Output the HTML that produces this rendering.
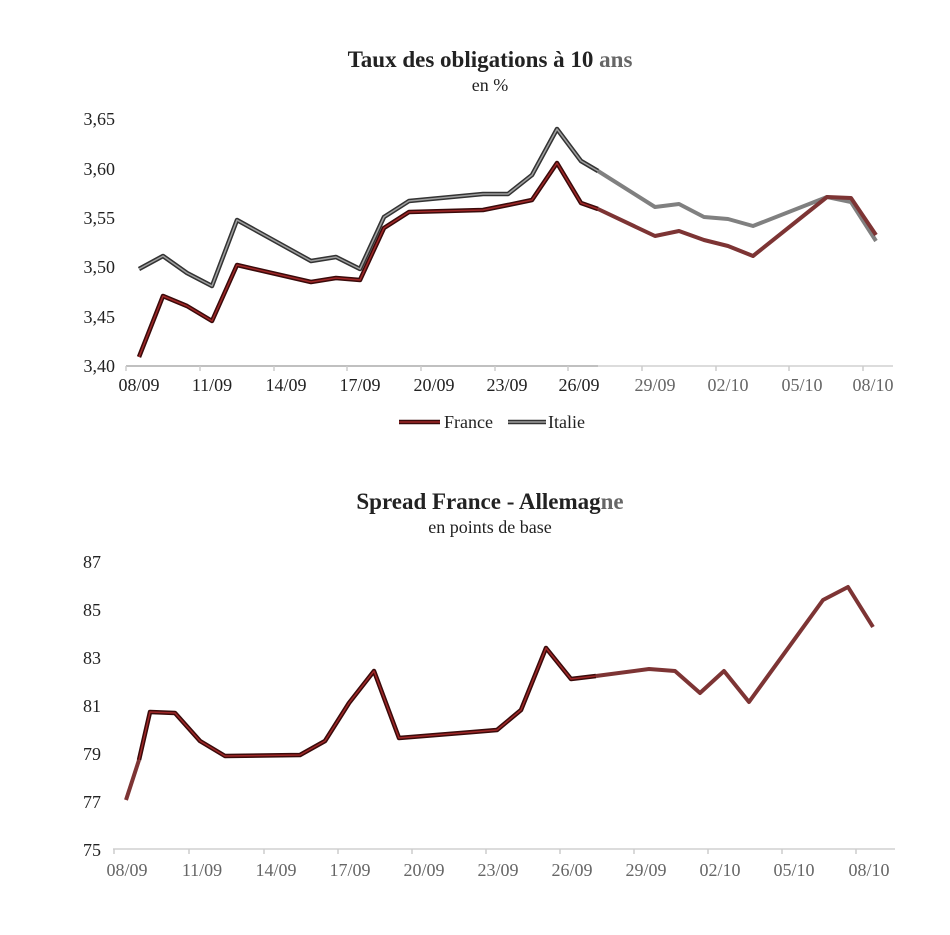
<!DOCTYPE html>
<html><head><meta charset="utf-8"><style>
body{margin:0;background:#fff;}
svg{display:block;font-family:"Liberation Serif",serif;}
</style></head><body>
<svg width="950" height="935" viewBox="0 0 950 935">
<rect width="950" height="935" fill="#fff"/>
<!-- Chart 1 -->
<text x="490" y="67" text-anchor="middle" font-size="23" font-weight="bold" fill="#222">Taux des obligations à 10 <tspan fill="#666">ans</tspan></text>
<text x="490" y="91" text-anchor="middle" font-size="18" fill="#222">en %</text>
<g font-size="18" fill="#222" text-anchor="end">
<text x="115" y="125">3,65</text><text x="115" y="175">3,60</text><text x="115" y="224">3,55</text>
<text x="115" y="273">3,50</text><text x="115" y="323">3,45</text><text x="115" y="372">3,40</text>
</g>
<line x1="126" y1="366" x2="893" y2="366" stroke="#d0d0d0" stroke-width="1.5"/>
<line x1="126" y1="366" x2="598" y2="366" stroke="#999" stroke-width="1"/>
<g stroke="#ccc" stroke-width="1.5">
<line x1="126" y1="366" x2="126" y2="371"/><line x1="200" y1="366" x2="200" y2="371"/><line x1="274" y1="366" x2="274" y2="371"/><line x1="347" y1="366" x2="347" y2="371"/><line x1="421" y1="366" x2="421" y2="371"/><line x1="495" y1="366" x2="495" y2="371"/><line x1="568" y1="366" x2="568" y2="371"/><line x1="642" y1="366" x2="642" y2="371"/><line x1="716" y1="366" x2="716" y2="371"/><line x1="789" y1="366" x2="789" y2="371"/><line x1="863" y1="366" x2="863" y2="371"/>
</g>
<g font-size="18" text-anchor="middle">
<text x="139" y="391" fill="#222">08/09</text><text x="212" y="391" fill="#222">11/09</text><text x="286" y="391" fill="#222">14/09</text><text x="360" y="391" fill="#222">17/09</text><text x="434" y="391" fill="#222">20/09</text><text x="507" y="391" fill="#222">23/09</text><text x="579" y="391" fill="#222">26/09</text><text x="655" y="391" fill="#666">29/09</text><text x="728" y="391" fill="#666">02/10</text><text x="802" y="391" fill="#666">05/10</text><text x="873" y="391" fill="#666">08/10</text>
</g>
<g fill="none" stroke-linejoin="round">
<polyline points="598,171 655,207 679,204 704,217 728,219 753,226 827,197 851,202 876,241" stroke="#808080" stroke-width="4"/>
<polyline points="139,269 163,256 187,273 212,286 237,220 311,261 336,257 360,269 384,217 409,201 483,194 508,194 532,175 557,129 581,161 598,171" stroke="#333" stroke-width="4.5"/>
<polyline points="139,269 163,256 187,273 212,286 237,220 311,261 336,257 360,269 384,217 409,201 483,194 508,194 532,175 557,129 581,161 598,171" stroke="#a0a0a0" stroke-width="1.5"/>
<polyline points="598,209 655,236 679,231 704,240 728,246 753,256 827,197 851,198 876,235" stroke="#7d3434" stroke-width="4"/>
<polyline points="139,357 163,296 187,306 212,321 237,265 311,282 336,278 360,280 384,228 409,212 483,210 508,205 532,200 557,163 581,203 598,209" stroke="#3a0a0a" stroke-width="4.5"/>
<polyline points="139,357 163,296 187,306 212,321 237,265 311,282 336,278 360,280 384,228 409,212 483,210 508,205 532,200 557,163 581,203 598,209" stroke="#a02828" stroke-width="1.5"/>
</g>
<line x1="399" y1="422" x2="440" y2="422" stroke="#3a0a0a" stroke-width="4.5"/><line x1="399" y1="422" x2="440" y2="422" stroke="#a02828" stroke-width="1.5"/>
<text x="444" y="428" font-size="18" fill="#222">France</text>
<line x1="508" y1="422" x2="546" y2="422" stroke="#333" stroke-width="4.5"/><line x1="508" y1="422" x2="546" y2="422" stroke="#a0a0a0" stroke-width="1.5"/>
<text x="548" y="428" font-size="18" fill="#222">Italie</text>

<!-- Chart 2 -->
<text x="490" y="509" text-anchor="middle" font-size="23" font-weight="bold" fill="#222">Spread France - Allemag<tspan fill="#666">ne</tspan></text>
<text x="490" y="533" text-anchor="middle" font-size="18" fill="#222">en points de base</text>
<g font-size="18" fill="#222" text-anchor="end">
<text x="101" y="568">87</text><text x="101" y="616">85</text><text x="101" y="664">83</text><text x="101" y="712">81</text><text x="101" y="760">79</text><text x="101" y="808">77</text><text x="101" y="856">75</text>
</g>
<line x1="113" y1="849" x2="895" y2="849" stroke="#d0d0d0" stroke-width="1.5"/>
<g stroke="#ccc" stroke-width="1.5">
<line x1="114" y1="849" x2="114" y2="854"/><line x1="189" y1="849" x2="189" y2="854"/><line x1="264" y1="849" x2="264" y2="854"/><line x1="338" y1="849" x2="338" y2="854"/><line x1="412" y1="849" x2="412" y2="854"/><line x1="486" y1="849" x2="486" y2="854"/><line x1="560" y1="849" x2="560" y2="854"/><line x1="634" y1="849" x2="634" y2="854"/><line x1="708" y1="849" x2="708" y2="854"/><line x1="782" y1="849" x2="782" y2="854"/><line x1="856" y1="849" x2="856" y2="854"/>
</g>
<g font-size="18" text-anchor="middle" fill="#666">
<text x="127" y="876">08/09</text><text x="202" y="876">11/09</text><text x="276" y="876">14/09</text><text x="350" y="876">17/09</text><text x="424" y="876">20/09</text><text x="498" y="876">23/09</text><text x="572" y="876">26/09</text><text x="646" y="876">29/09</text><text x="720" y="876">02/10</text><text x="794" y="876">05/10</text><text x="869" y="876">08/10</text>
</g>
<g fill="none" stroke-linejoin="round">
<polyline points="126,800 139,760" stroke="#7d3434" stroke-width="4"/>
<polyline points="596,676 649,669 675,671 700,693 724,671 749,702 823,600 848,587 873,627" stroke="#7d3434" stroke-width="4"/>
<polyline points="139,760 150,712 175,713 200,741 225,756 300,755 325,741 349,703 374,671 399,738 473,732 497,730 521,710 546,648 571,679 596,676" stroke="#3a0a0a" stroke-width="4.5"/>
<polyline points="139,760 150,712 175,713 200,741 225,756 300,755 325,741 349,703 374,671 399,738 473,732 497,730 521,710 546,648 571,679 596,676" stroke="#a02828" stroke-width="1.5"/>
</g>
</svg>
</body></html>
